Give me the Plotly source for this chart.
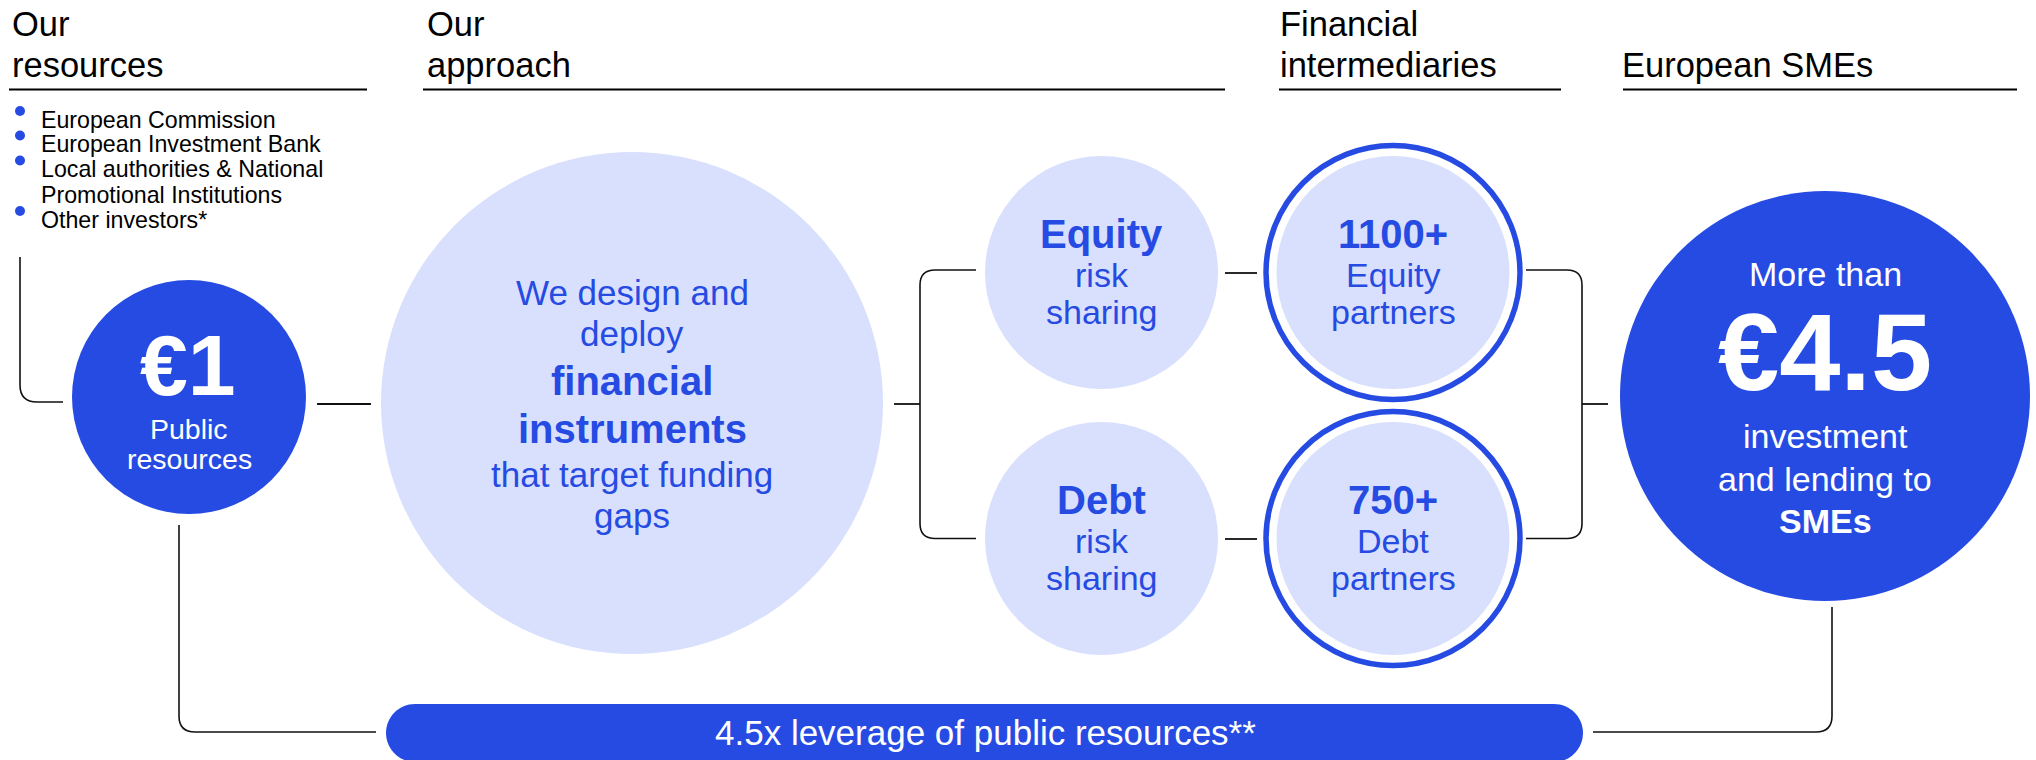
import plotly.graph_objects as go

# ---------------- data / text content ----------------
header_resources = ["Our", "resources"]
header_approach = ["Our", "approach"]
header_intermediaries = ["Financial", "intermediaries"]
header_smes = ["European SMEs"]

resource_items = ["European Commission", "European Investment Bank",
                  "Local authorities & National", "Promotional Institutions",
                  "Other investors*"]
resource_bullet_rows = [0, 1, 2, 4]

public_value = "€1"
public_label = ["Public", "resources"]

approach_lines = [("We design and", False), ("deploy", False),
                  ("financial", True), ("instruments", True),
                  ("that target funding", False), ("gaps", False)]

instrument_types = ["Equity", "Debt"]
instrument_label = ["risk", "sharing"]

partner_counts = ["1100+", "750+"]
partner_types = ["Equity", "Debt"]
partner_label = "partners"

sme_prefix = "More than"
sme_value = "€4.5"
sme_lines = ["investment", "and lending to"]
sme_bold = "SMEs"

leverage_text = "4.5x leverage of public resources**"

# ---------------- styling ----------------
W, H = 2036, 760
BLUE = "#264BE3"
LIGHT = "#D9E0FD"
FONT = "Liberation Sans, Arial, Helvetica, sans-serif"

fig = go.Figure()
shapes = []
annotations = []


def text(x, baseline, s, size, color, bold=False, xanchor="center"):
    cy = baseline - 0.35 * size
    annotations.append(dict(
        x=x, y=cy, xref="x", yref="y", text=("<b>%s</b>" % s) if bold else s,
        showarrow=False, xanchor=xanchor, yanchor="middle",
        font=dict(family=FONT, size=size, color=color), borderpad=0))


def circle(cx, cy, r, fill, line_color=None, line_width=0):
    shapes.append(dict(type="circle", xref="x", yref="y",
                       x0=cx - r, x1=cx + r, y0=cy - r, y1=cy + r,
                       fillcolor=fill if fill else "rgba(0,0,0,0)",
                       line=dict(color=line_color or "rgba(0,0,0,0)", width=line_width),
                       layer="below"))


def rounded(points, r=15, width=1.6, color="#111"):
    d = "M %g,%g" % points[0]
    for i in range(1, len(points) - 1):
        ax, ay = points[i - 1]
        px, py = points[i]
        bx, by = points[i + 1]
        l1 = ((px - ax) ** 2 + (py - ay) ** 2) ** 0.5
        l2 = ((bx - px) ** 2 + (by - py) ** 2) ** 0.5
        s1 = (px - (px - ax) / l1 * r, py - (py - ay) / l1 * r)
        s2 = (px + (bx - px) / l2 * r, py + (by - py) / l2 * r)
        d += " L %g,%g Q %g,%g %g,%g" % (s1[0], s1[1], px, py, s2[0], s2[1])
    d += " L %g,%g" % points[-1]
    shapes.append(dict(type="path", path=d, xref="x", yref="y",
                       line=dict(color=color, width=width)))


def hline(x0, x1, y, width=1.8, color="#111"):
    shapes.append(dict(type="line", xref="x", yref="y", x0=x0, x1=x1, y0=y, y1=y,
                       line=dict(color=color, width=width)))


def pill(x0, x1, y0, y1, fill):
    r = (y1 - y0) / 2.0
    cy = (y0 + y1) / 2.0
    k = 0.5523 * r
    d = ("M %g,%g L %g,%g C %g,%g %g,%g %g,%g C %g,%g %g,%g %g,%g "
         "L %g,%g C %g,%g %g,%g %g,%g C %g,%g %g,%g %g,%g Z") % (
        x0 + r, y0, x1 - r, y0,
        x1 - r + k, y0, x1, cy - k, x1, cy,
        x1, cy + k, x1 - r + k, y1, x1 - r, y1,
        x0 + r, y1,
        x0 + r - k, y1, x0, cy + k, x0, cy,
        x0, cy - k, x0 + r - k, y0, x0 + r, y0)
    shapes.append(dict(type="path", path=d, xref="x", yref="y",
                       fillcolor=fill, line=dict(width=0), layer="below"))


# ---------------- headers ----------------
HS = 34.5
for (x, lines, ux0, ux1) in [(11, header_resources, 9, 367),
                             (426, header_approach, 423, 1225),
                             (1279, header_intermediaries, 1279, 1561),
                             (1621, header_smes, 1623, 2017)]:
    baselines = [36, 77][-len(lines):]
    for ln, b in zip(lines, baselines):
        text(x, b, ln, HS, "#000", xanchor="left")
    hline(ux0, ux1, 89.5, width=2, color="#000")

# ---------------- resources list ----------------
item_baselines = [128, 152.5, 177.5, 203, 228]
for i, it in enumerate(resource_items):
    text(40, item_baselines[i], it, 23.2, "#000", xanchor="left")
for row in resource_bullet_rows:
    circle(20, item_baselines[row] - 17, 5, BLUE)

# ---------------- €1 circle ----------------
rounded([(20, 257), (20, 402), (63, 402)], r=17)
circle(189, 397, 117, BLUE)
text(188, 395, public_value, 86, "#fff", bold=True)
text(189, 439, public_label[0], 28.5, "#fff")
text(189, 469, public_label[1], 28.5, "#fff")
hline(317, 371, 404)

# ---------------- approach circle ----------------
circle(632, 403, 251, LIGHT)
app_baselines = [305, 346, 395, 443, 487, 528]
for (ln, bold), b in zip(approach_lines, app_baselines):
    text(632, b, ln, 40 if bold else 35, BLUE, bold=bold)
hline(894, 920, 404)
rounded([(976, 270), (920, 270), (920, 538.5), (976, 538.5)], r=15)

# ---------------- instruments & partners ----------------
row_cy = [272.5, 538.5]
for i in range(2):
    cy = row_cy[i]
    circle(1101.5, cy, 116.5, LIGHT)
    text(1101.5, cy - 24.5, instrument_types[i], 40, BLUE, bold=True)
    text(1101.5, cy + 14.5, instrument_label[0], 34, BLUE)
    text(1101.5, cy + 51.5, instrument_label[1], 34, BLUE)
    hline(1225, 1257, cy + 0.5)
    circle(1393, cy, 127, None, BLUE, 5.5)
    circle(1393, cy, 116.5, LIGHT)
    text(1393, cy - 24.5, partner_counts[i], 40, BLUE, bold=True)
    text(1393, cy + 14.5, partner_types[i], 34, BLUE)
    text(1393, cy + 51.5, partner_label, 34, BLUE)

rounded([(1526, 270), (1582, 270), (1582, 538.5), (1526, 538.5)], r=15)
hline(1582, 1608, 404)

# ---------------- SMEs circle ----------------
circle(1825, 396, 205, BLUE)
text(1825, 286, sme_prefix, 34, "#fff")
text(1825, 390, sme_value, 110, "#fff", bold=True)
text(1825, 448, sme_lines[0], 34, "#fff")
text(1825, 491, sme_lines[1], 34, "#fff")
text(1825, 533, sme_bold, 34, "#fff", bold=True)

# ---------------- bottom leverage bar ----------------
rounded([(179, 525), (179, 732), (376, 732)], r=16)
rounded([(1593, 732), (1832, 732), (1832, 607)], r=16)
pill(386, 1583, 704, 762, BLUE)
text(985, 745, leverage_text, 35, "#fff")

fig.update_layout(
    width=W, height=H, autosize=False,
    margin=dict(l=0, r=0, t=0, b=0, pad=0),
    paper_bgcolor="#fff", plot_bgcolor="#fff",
    xaxis=dict(range=[0, W], visible=False, fixedrange=True),
    yaxis=dict(range=[H, 0], visible=False, fixedrange=True),
    shapes=shapes, annotations=annotations, showlegend=False,
)

fig.write_html("out.html", config={"displayModeBar": False},
               post_script="document.body.style.margin='0';document.body.style.overflow='hidden';")
